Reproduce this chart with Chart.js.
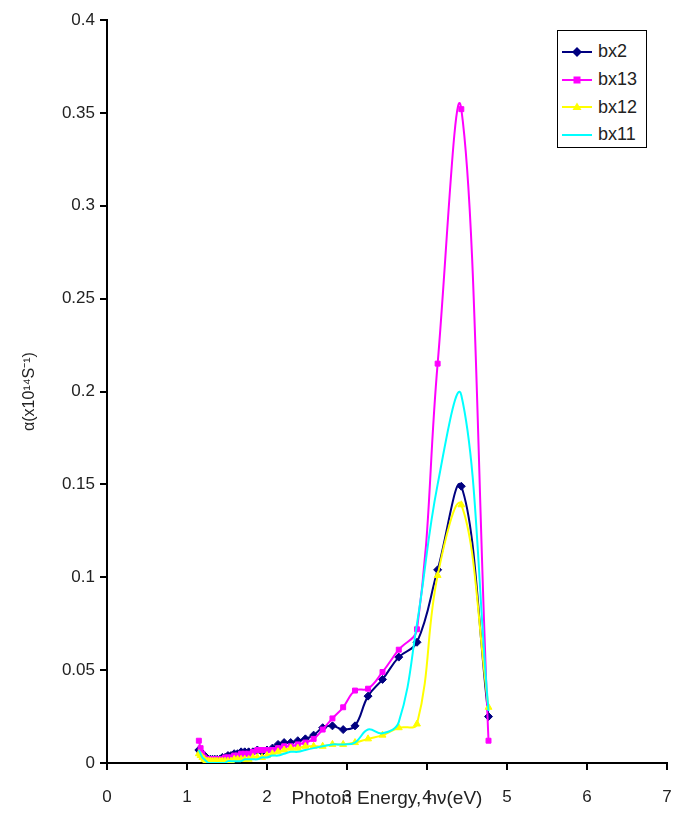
<!DOCTYPE html>
<html><head><meta charset="utf-8">
<script src="https://cdn.jsdelivr.net/npm/chart.js@4.4.1/dist/chart.umd.min.js"></script>
<style>
body{margin:0;background:#fff;}
#wrap{position:relative;width:673px;height:813px;}
#legend{position:absolute;left:557px;top:30px;width:90px;height:118px;border:1px solid #000;background:#fff;font-family:"Liberation Sans",Arial,sans-serif;font-size:18px;color:#222;box-sizing:border-box;padding-top:7px;}
.row{height:27.7px;display:flex;align-items:center;}
.row svg{margin-left:4px;margin-right:6px;flex:none;}
</style></head><body>
<div id="wrap"><canvas id="c" width="673" height="813"></canvas><div id="legend"></div></div>
<script>
// Photon energy (eV) of each measured point
const energies = [1.148,1.170,1.192,1.216,1.240,1.265,1.292,1.319,1.348,1.378,1.409,1.442,1.476,1.512,1.550,1.590,1.632,1.676,1.722,1.771,1.824,1.879,1.938,2.000,2.067,2.138,2.214,2.296,2.385,2.480,2.583,2.696,2.818,2.952,3.100,3.263,3.444,3.647,3.875,4.133,4.429,4.769];
const seriesNames = ['bx2','bx13','bx12','bx11'];
const bx2  = [0.007,0.006,0.005,0.004,0.003,0.002,0.002,0.002,0.002,0.002,0.002,0.003,0.003,0.004,0.004,0.005,0.005,0.006,0.006,0.006,0.006,0.007,0.006,0.007,0.008,0.010,0.011,0.011,0.012,0.013,0.015,0.019,0.020,0.018,0.020,0.036,0.045,0.057,0.065,0.104,0.149,0.025];
const bx13 = [0.012,0.008,0.005,0.003,0.002,0.002,0.002,0.002,0.002,0.002,0.002,0.002,0.003,0.003,0.003,0.004,0.004,0.005,0.005,0.005,0.006,0.007,0.007,0.007,0.007,0.008,0.009,0.009,0.010,0.011,0.013,0.018,0.024,0.030,0.039,0.040,0.049,0.061,0.072,0.215,0.352,0.012];
const bx12 = [0.005,0.004,0.003,0.002,0.001,0.001,0.001,0.001,0.001,0.001,0.001,0.001,0.001,0.001,0.001,0.002,0.002,0.002,0.002,0.002,0.003,0.003,0.003,0.004,0.005,0.006,0.007,0.008,0.008,0.009,0.009,0.009,0.010,0.010,0.011,0.013,0.015,0.019,0.021,0.101,0.139,0.030];
const bx11 = [0.007,0.005,0.003,0.002,0.001,0.000,0.000,0.000,0.000,0.000,0.000,0.000,0.000,0.001,0.001,0.001,0.001,0.001,0.002,0.002,0.002,0.002,0.003,0.003,0.004,0.004,0.005,0.006,0.006,0.007,0.008,0.009,0.010,0.010,0.011,0.018,0.016,0.022,0.075,0.150,0.198,0.028];
const xTickLabels = ['0','1','2','3','4','5','6','7'];
const yTickLabels = ['0','0.05','0.1','0.15','0.2','0.25','0.3','0.35','0.4'];

const FONT = '"Liberation Sans", Arial, sans-serif';
const styles = [
  {color:'#000080', point:'rectRot', radius:4},
  {color:'#FF00FF', point:'rect', radius:3.5},
  {color:'#FFFF00', point:'triangle', radius:4},
  {color:'#00FFFF', point:'circle', radius:0}
];
const seriesValues = [bx2, bx13, bx12, bx11];
const datasets = seriesValues.map((vals, i) => ({
  label: seriesNames[i],
  data: energies.map((e, k) => ({x: e, y: vals[k]})),
  borderColor: styles[i].color,
  backgroundColor: styles[i].color,
  pointStyle: styles[i].point,
  pointRadius: styles[i].radius,
  pointBorderWidth: 1,
  borderWidth: 2,
  tension: 0.4,
  order: seriesValues.length - i
}));

new Chart(document.getElementById('c'), {
  type: 'line',
  data: {datasets},
  options: {
    responsive: false,
    animation: false,
    layout: {padding: {left: 0, right: 6, top: 20, bottom: 0}},
    plugins: {legend: {display: false}, tooltip: {enabled: false}},
    scales: {
      x: {
        type: 'linear', min: 0, max: 7,
        afterFit: s => { s.height = 50; s.paddingLeft = 0; s.paddingRight = 0; },
        ticks: {stepSize: 1, color: '#222', font: {family: FONT, size: 17}, padding: 17,
          callback: (v) => xTickLabels[Math.round(v)] ?? ''},
        grid: {drawOnChartArea: false, drawTicks: true, tickLength: 7, color: '#000', lineWidth: 2},
        border: {display: true, color: '#000', width: 2},
        title: {display: true, text: 'Photon Energy, hν(eV)', color: '#222',
          font: {family: FONT, size: 19}, padding: {top: 0, bottom: 3}}
      },
      y: {
        type: 'linear', min: 0, max: 0.4,
        afterFit: s => { s.width = 107; s.paddingTop = 0; s.paddingBottom = 0; },
        ticks: {stepSize: 0.05, color: '#222', font: {family: FONT, size: 17}, padding: 5,
          callback: (v, i) => yTickLabels[i] ?? ''},
        grid: {drawOnChartArea: false, drawTicks: true, tickLength: 7, color: '#000', lineWidth: 2},
        border: {display: true, color: '#000', width: 2},
        title: {display: true, text: 'α(x10¹⁴S⁻¹)', color: '#222',
          font: {family: FONT, size: 16}, padding: {top: 20, bottom: 0}}
      }
    }
  }
});

// legend
const lg = document.getElementById('legend');
styles.forEach((st, i) => {
  const row = document.createElement('div');
  row.className = 'row';
  let mk = '';
  if (st.point === 'rectRot') mk = `<polygon points="15,2 20,7 15,12 10,7" fill="${st.color}"/>`;
  if (st.point === 'rect') mk = `<rect x="11.5" y="3.5" width="7" height="7" fill="${st.color}"/>`;
  if (st.point === 'triangle') mk = `<polygon points="15,2.5 19.5,10 10.5,10" fill="${st.color}"/>`;
  row.innerHTML = `<svg width="30" height="14"><line x1="0" y1="7" x2="30" y2="7" stroke="${st.color}" stroke-width="2"/>${mk}</svg><span>${seriesNames[i]}</span>`;
  lg.appendChild(row);
});
</script>
</body></html>
